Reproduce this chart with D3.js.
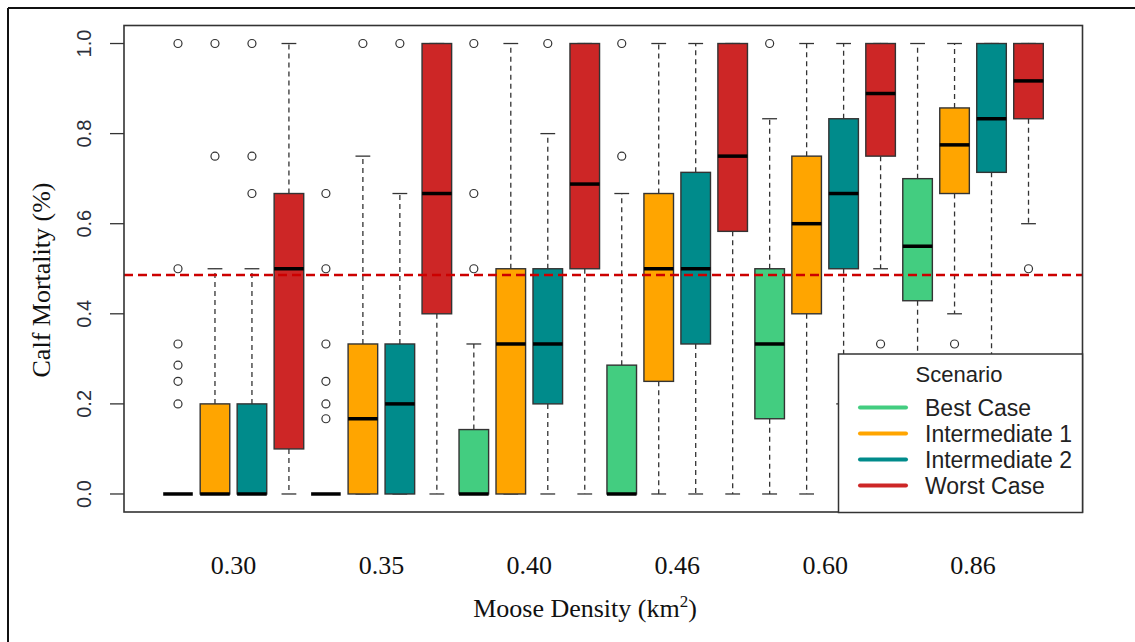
<!DOCTYPE html>
<html>
<head>
<meta charset="utf-8">
<script src="https://cdn.jsdelivr.net/npm/d3@7"></script>
<style>
  html, body { margin: 0; padding: 0; background: #fff; }
  svg { display: block; }
</style>
</head>
<body>
<svg id="chart" width="1135" height="642"></svg>
<script>
// ---------- data ----------
const densities = ["0.30", "0.35", "0.40", "0.46", "0.60", "0.86"];
const scenarios = ["Best Case", "Intermediate 1", "Intermediate 2", "Worst Case"];
const scenarioColors = ["#43CD80", "#FFA500", "#008B8B", "#CD2626"];
const yTicks = [0, 0.2, 0.4, 0.6, 0.8, 1.0];
const threshold = 0.486;

// per scenario: one value per density
const bestLow     = [0, 0, 0, 0, 0, 0];
const bestQ1      = [0, 0, 0, 0, 0.167, 0.429];
const bestMed     = [0, 0, 0, 0, 0.333, 0.55];
const bestQ3      = [0, 0, 0.143, 0.286, 0.5, 0.7];
const bestHigh    = [0, 0, 0.333, 0.667, 0.833, 1.0];
const bestOut     = [[1, 0.5, 0.333, 0.286, 0.25, 0.2], [0.667, 0.5, 0.333, 0.25, 0.2, 0.167], [1, 0.667, 0.5], [1, 0.75], [1], []];

const int1Low     = [0, 0, 0, 0, 0, 0.4];
const int1Q1      = [0, 0, 0, 0.25, 0.4, 0.667];
const int1Med     = [0, 0.167, 0.333, 0.5, 0.6, 0.775];
const int1Q3      = [0.2, 0.333, 0.5, 0.667, 0.75, 0.857];
const int1High    = [0.5, 0.75, 1, 1, 1, 1];
const int1Out     = [[1, 0.75], [1], [], [], [], [0.333]];

const int2Low     = [0, 0, 0, 0, 0.2, 0.3];
const int2Q1      = [0, 0, 0.2, 0.333, 0.5, 0.714];
const int2Med     = [0, 0.2, 0.333, 0.5, 0.667, 0.833];
const int2Q3      = [0.2, 0.333, 0.5, 0.714, 0.833, 1];
const int2High    = [0.5, 0.667, 0.8, 1, 1, 1];
const int2Out     = [[1, 0.75, 0.667], [1], [1], [], [], []];

const worstLow    = [0, 0, 0, 0, 0.5, 0.6];
const worstQ1     = [0.1, 0.4, 0.5, 0.583, 0.75, 0.833];
const worstMed    = [0.5, 0.667, 0.688, 0.75, 0.889, 0.917];
const worstQ3     = [0.667, 1, 1, 1, 1, 1];
const worstHigh   = [1, 1, 1, 1, 1, 1];
const worstOut    = [[], [], [], [], [0.333], [0.5]];

const seriesStats = [
  {low: bestLow,  q1: bestQ1,  med: bestMed,  q3: bestQ3,  high: bestHigh,  out: bestOut},
  {low: int1Low,  q1: int1Q1,  med: int1Med,  q3: int1Q3,  high: int1High,  out: int1Out},
  {low: int2Low,  q1: int2Q1,  med: int2Med,  q3: int2Q3,  high: int2High,  out: int2Out},
  {low: worstLow, q1: worstQ1, med: worstMed, q3: worstQ3, high: worstHigh, out: worstOut}
];

// build table of boxes
const boxes = [];
densities.forEach((d, g) => {
  scenarios.forEach((s, k) => {
    const st = seriesStats[k];
    boxes.push({
      pos: g * 4 + k + 1, color: scenarioColors[k],
      low: st.low[g], q1: st.q1[g], med: st.med[g], q3: st.q3[g], high: st.high[g], out: st.out[g]
    });
  });
});

// ---------- layout ----------
const svg = d3.select("#chart");
const L = 124, R = 1082.5, T = 25.5, B = 512;
const nPos = densities.length * scenarios.length;
const pad = (nPos) * 0.04;
const x = d3.scaleLinear().domain([0.5 - pad, nPos + 0.5 + pad]).range([L, R]);
const y = d3.scaleLinear().domain([-0.04, 1.04]).range([B, T]);
const unit = x(1) - x(0);
const boxW = 0.8 * unit;
const capW = 0.4 * unit;
const ink = "#333";

// outer frame (top + left)
svg.append("line").attr("x1", 8).attr("y1", 8).attr("x2", 1135).attr("y2", 8)
  .attr("stroke", "#111").attr("stroke-width", 2);
svg.append("line").attr("x1", 8).attr("y1", 8).attr("x2", 8).attr("y2", 642)
  .attr("stroke", "#111").attr("stroke-width", 2);

const gBox = svg.append("g");
const bx = gBox.selectAll("g.box").data(boxes).join("g").attr("class", "box");

// whiskers (dashed)
bx.append("line")
  .attr("x1", d => x(d.pos)).attr("x2", d => x(d.pos))
  .attr("y1", d => y(d.q3)).attr("y2", d => y(d.high))
  .attr("stroke", ink).attr("stroke-width", 1.3).attr("stroke-dasharray", "5,4");
bx.append("line")
  .attr("x1", d => x(d.pos)).attr("x2", d => x(d.pos))
  .attr("y1", d => y(d.q1)).attr("y2", d => y(d.low))
  .attr("stroke", ink).attr("stroke-width", 1.3).attr("stroke-dasharray", "5,4");
// caps
["low", "high"].forEach(key => {
  bx.append("line")
    .attr("x1", d => x(d.pos) - capW / 2).attr("x2", d => x(d.pos) + capW / 2)
    .attr("y1", d => y(d[key])).attr("y2", d => y(d[key]))
    .attr("stroke", ink).attr("stroke-width", 1.3);
});
// boxes
bx.append("rect")
  .attr("x", d => x(d.pos) - boxW / 2).attr("width", boxW)
  .attr("y", d => y(d.q3)).attr("height", d => y(d.q1) - y(d.q3))
  .attr("fill", d => d.color).attr("stroke", ink).attr("stroke-width", 1.4);
// medians
bx.append("line")
  .attr("x1", d => x(d.pos) - boxW / 2).attr("x2", d => x(d.pos) + boxW / 2)
  .attr("y1", d => y(d.med)).attr("y2", d => y(d.med))
  .attr("stroke", "#000").attr("stroke-width", 3.5);
// outliers
bx.selectAll("circle").data(d => d.out.map(v => ({pos: d.pos, v})))
  .join("circle")
  .attr("cx", d => x(d.pos)).attr("cy", d => y(d.v)).attr("r", 4)
  .attr("fill", "none").attr("stroke", ink).attr("stroke-width", 1.2);

// threshold line
svg.append("line")
  .attr("x1", L).attr("x2", R).attr("y1", y(threshold)).attr("y2", y(threshold))
  .attr("stroke", "#CC0000").attr("stroke-width", 2.5).attr("stroke-dasharray", "9,5");

// plot frame
svg.append("rect").attr("x", L).attr("y", T).attr("width", R - L).attr("height", B - T)
  .attr("fill", "none").attr("stroke", ink).attr("stroke-width", 1.6);

// y axis
const yAxis = svg.append("g");
yAxis.selectAll("line.tick").data(yTicks).join("line")
  .attr("x1", L - 14).attr("x2", L).attr("y1", d => y(d)).attr("y2", d => y(d))
  .attr("stroke", ink).attr("stroke-width", 1.3);
yAxis.selectAll("text").data(yTicks).join("text")
  .attr("transform", d => `translate(90.5,${y(d)}) rotate(-90)`)
  .attr("text-anchor", "middle")
  .attr("font-family", "'Liberation Sans', Arial, sans-serif")
  .attr("font-size", 20).attr("fill", "#2b2f3a")
  .text(d => d.toFixed(1));

// x labels
svg.append("g").selectAll("text").data(densities).join("text")
  .attr("x", (d, i) => x(i * 4 + 2.5)).attr("y", 574)
  .attr("text-anchor", "middle")
  .attr("font-family", "'Liberation Serif', 'Times New Roman', serif")
  .attr("font-size", 26).attr("fill", "#111")
  .text(d => d);

// axis titles
const xt = svg.append("text").attr("x", 585).attr("y", 617).attr("text-anchor", "middle")
  .attr("font-family", "'Liberation Serif', 'Times New Roman', serif")
  .attr("font-size", 26).attr("fill", "#111");
xt.append("tspan").text("Moose Density (km");
xt.append("tspan").attr("dy", -10).attr("font-size", 17).text("2");
xt.append("tspan").attr("dy", 10).text(")");

svg.append("text").attr("transform", "translate(50,280) rotate(-90)")
  .attr("text-anchor", "middle")
  .attr("font-family", "'Liberation Serif', 'Times New Roman', serif")
  .attr("font-size", 26).attr("fill", "#111")
  .text("Calf Mortality (%)");

// legend
const lg = svg.append("g");
lg.append("rect").attr("x", 838.5).attr("y", 354).attr("width", R - 838.5).attr("height", B + 0.5 - 354)
  .attr("fill", "#fff").attr("stroke", ink).attr("stroke-width", 1.5);
lg.append("text").attr("x", 959).attr("y", 382).attr("text-anchor", "middle")
  .attr("font-family", "'Liberation Sans', Arial, sans-serif").attr("font-size", 22)
  .attr("fill", "#222").text("Scenario");
const rows = lg.selectAll("g.row").data(scenarios).join("g").attr("class", "row")
  .attr("transform", (d, i) => `translate(0,${415.5 + i * 26})`);
rows.append("line").attr("x1", 860).attr("x2", 906).attr("y1", -8).attr("y2", -8)
  .attr("stroke", (d, i) => scenarioColors[i]).attr("stroke-width", 4).attr("stroke-linecap", "round");
rows.append("text").attr("x", 925).attr("y", 0)
  .attr("font-family", "'Liberation Sans', Arial, sans-serif").attr("font-size", 23)
  .attr("fill", "#222").text(d => d);
</script>
</body>
</html>
